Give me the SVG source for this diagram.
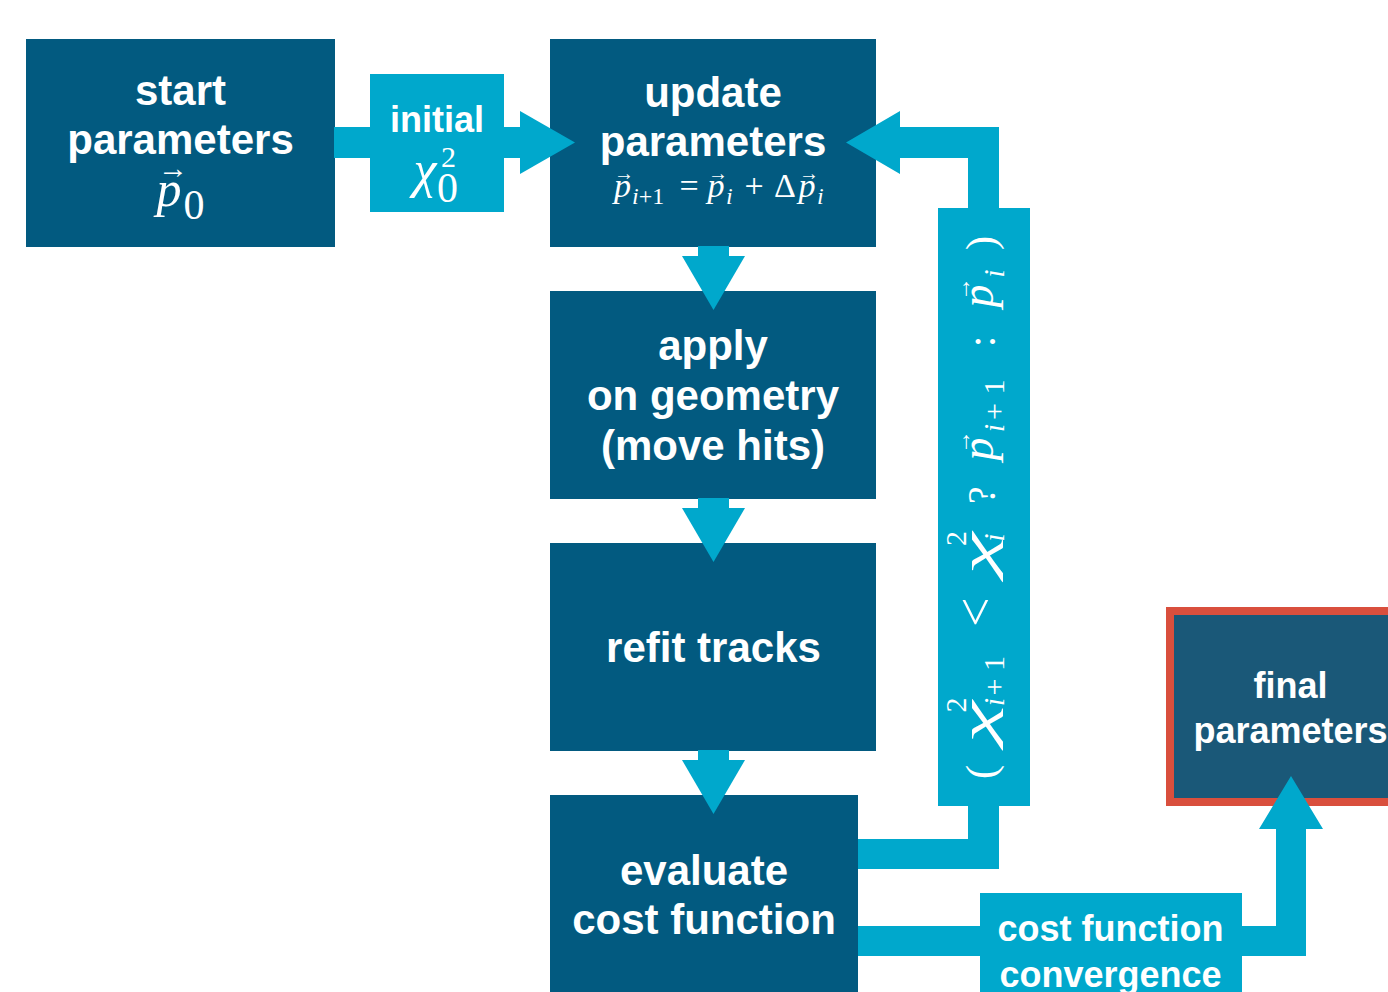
<svg xmlns="http://www.w3.org/2000/svg" width="1388" height="992" viewBox="0 0 1388 992">
<style>
.box{fill:#025A80}
.fin{fill:#1A5878;stroke:#D94F3D;stroke-width:8}
.cy{fill:#00A8CC}
.lbl{font-family:"Liberation Sans",Arial,sans-serif;font-weight:bold;fill:#fff;text-anchor:middle}
.big{font-size:42px}
.med{font-size:36px}
.m{font-family:"Liberation Serif","DejaVu Serif",serif;fill:#fff;text-anchor:middle}
.it{font-style:italic}
.st{text-anchor:start}
</style>
<rect width="1388" height="992" fill="#fff"/>

<g id="node-start">
<rect class="box" x="26" y="39" width="309" height="208"/>
<text class="lbl big" x="180.5" y="105">start</text>
<text class="lbl big" x="180.5" y="154">parameters</text>
<text class="m it" x="169" y="206" font-size="50">p</text>
<text class="m" x="173" y="178" font-size="30">→</text>
<text class="m" x="194" y="219" font-size="42">0</text>
</g>

<g id="node-update">
<rect class="box" x="550" y="39" width="326" height="208"/>
<text class="lbl big" x="713" y="107">update</text>
<text class="lbl big" x="713" y="156">parameters</text>
<g font-size="34">
<text class="m it" x="622.5" y="197">p</text>
<text class="m" x="624" y="180" font-size="20">→</text>
<text class="m st" x="632" y="204" font-size="24"><tspan font-style="italic">i</tspan>+1</text>
<text class="m" x="689" y="197">=</text>
<text class="m it" x="716" y="197">p</text>
<text class="m" x="718" y="180" font-size="20">→</text>
<text class="m it st" x="726" y="204" font-size="24">i</text>
<text class="m" x="754" y="197">+</text>
<text class="m" x="785" y="197">Δ</text>
<text class="m it" x="807" y="197">p</text>
<text class="m" x="809" y="180" font-size="20">→</text>
<text class="m it st" x="817" y="204" font-size="24">i</text>
</g>
</g>

<g id="node-apply">
<rect class="box" x="550" y="291" width="326" height="208"/>
<text class="lbl big" x="713" y="360">apply</text>
<text class="lbl big" x="713" y="410">on geometry</text>
<text class="lbl big" x="713" y="460">(move hits)</text>
</g>

<g id="node-refit">
<rect class="box" x="550" y="543" width="326" height="208"/>
<text class="lbl big" x="713.5" y="662">refit tracks</text>
</g>

<g id="node-evaluate">
<rect class="box" x="550" y="795" width="308" height="197"/>
<text class="lbl big" x="704" y="885">evaluate</text>
<text class="lbl big" x="704" y="934">cost function</text>
</g>

<g id="node-final">
<rect class="fin" x="1170" y="611" width="230" height="191"/>
<text class="lbl med" x="1290.5" y="698">final</text>
<text class="lbl med" x="1290.5" y="743">parameters</text>
</g>

<g id="connectors" class="cy">
<rect x="334" y="127" width="187" height="31"/>
<polygon points="520,111 575,142.5 520,174"/>
<rect x="698" y="246" width="31" height="11"/>
<polygon points="682,256 745,256 713.5,310"/>
<rect x="698" y="498" width="31" height="11"/>
<polygon points="682,508 745,508 713.5,562"/>
<rect x="698" y="750" width="31" height="11"/>
<polygon points="682,760 745,760 713.5,814"/>
<polygon points="858,839 968,839 968,158 900,158 900,174 846,142.5 900,111 900,127 999,127 999,869 858,869"/>
<polygon points="858,926 1276,926 1276,829 1259,829 1291,776 1323,829 1306,829 1306,956 858,956"/>
</g>

<g id="label-initial">
<rect class="cy" x="370" y="74" width="134" height="138"/>
<text class="lbl med" x="437" y="132">initial</text>
<text class="m it" x="425" y="187" font-size="52">χ</text>
<text class="m" x="448.5" y="167" font-size="30">2</text>
<text class="m" x="447.5" y="201.5" font-size="42">0</text>
</g>

<g id="label-condition">
<rect class="cy" x="938" y="208" width="92" height="598"/>
<g transform="translate(995,797) rotate(-90)" font-size="46">
<text class="m" x="25" y="0" font-size="42">(</text>
<text class="m it" x="75" y="-2" textLength="42" lengthAdjust="spacingAndGlyphs">χ</text>
<text class="m" x="92" y="-29" font-size="30">2</text>
<text class="m it" x="95" y="9" font-size="30">i</text>
<text class="m" x="110" y="9" font-size="30">+</text>
<text class="m" x="133.5" y="9" font-size="30">1</text>
<text class="m" x="185" y="-2" font-size="52">&lt;</text>
<text class="m it" x="243.5" y="-2" textLength="42" lengthAdjust="spacingAndGlyphs">χ</text>
<text class="m" x="258.5" y="-29" font-size="30">2</text>
<text class="m it" x="259.5" y="9" font-size="30">i</text>
<text class="m" x="302" y="0" font-size="40">?</text>
<text class="m it" x="348" y="-2">p</text>
<text class="m" x="355" y="-25" font-size="24">→</text>
<text class="m it" x="369" y="9" font-size="30">i</text>
<text class="m" x="385.5" y="9" font-size="30">+</text>
<text class="m" x="410" y="9" font-size="30">1</text>
<text class="m" x="455.5" y="0" font-size="42">:</text>
<text class="m it" x="501" y="-2">p</text>
<text class="m" x="508" y="-25" font-size="24">→</text>
<text class="m it" x="523.5" y="9" font-size="30">i</text>
<text class="m" x="554" y="0" font-size="42">)</text>
</g>
</g>

<g id="label-convergence">
<rect class="cy" x="980" y="893" width="262" height="99"/>
<text class="lbl med" x="1110.5" y="941">cost function</text>
<text class="lbl med" x="1110.5" y="987">convergence</text>
</g>
</svg>
